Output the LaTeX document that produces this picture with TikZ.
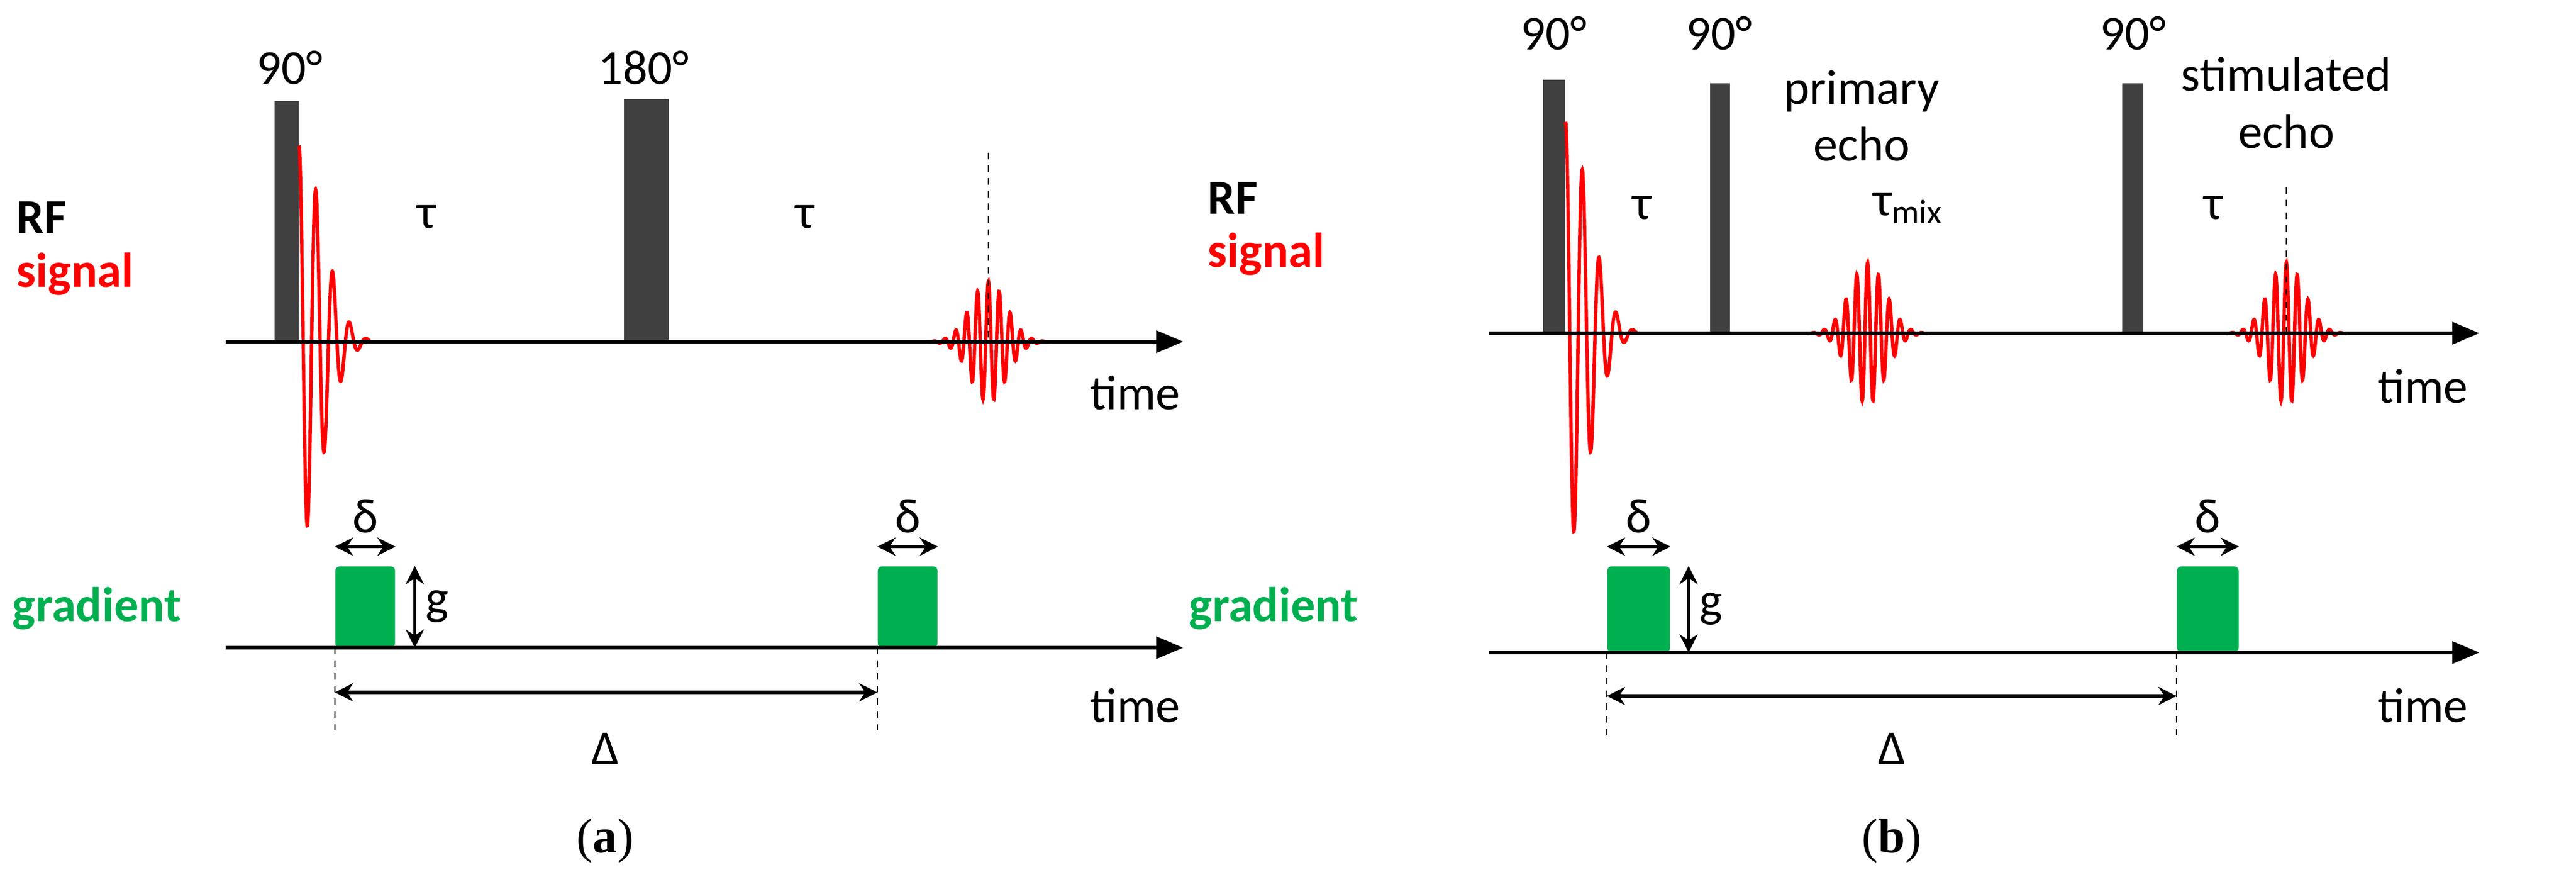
\documentclass[tikz,border=0pt]{standalone}
\usepackage{fontspec}
\setmainfont{Carlito}
\newfontfamily\capfont{Liberation Serif}
\usetikzlibrary{positioning,arrows.meta}

\definecolor{pulsegray}{HTML}{404040}
\definecolor{gradgreen}{HTML}{00B050}

\tikzset{
	lbl/.style={font=\fontsize{23}{27}\selectfont, inner sep=0pt},
	axis/.style={line width=1.7pt, -{Triangle[length=0.45cm,width=0.36cm]}},
	rf/.style={fill=pulsegray, draw=none, anchor=south west, inner sep=0pt},
	grad/.style={fill=gradgreen, draw=none, anchor=south west, inner sep=0pt, rounded corners=2pt},
	sig/.style={red, line width=1.6pt},
	dim/.style={line width=1.6pt, {Stealth[length=0.3cm,width=0.3cm]}-{Stealth[length=0.3cm,width=0.3cm]}},
	guide/.style={dashed, line width=0.5pt}
}

\begin{document}
\begin{tikzpicture}
	\useasboundingbox (0,0) rectangle (42.69,-14.81);

	% ---------- (a) spin echo ----------
	\coordinate (a0) at (3.74,-5.66);
	\coordinate (a1) at (19.61,-5.66);
	\coordinate (g0) at (3.74,-10.73);
	\coordinate (g1) at (19.61,-10.73);

	\node[rf, minimum width=0.40cm, minimum height=3.98cm] (pa1) at (4.54,-5.66) {};
	\node[rf, minimum width=0.74cm, minimum height=4.01cm] (pa2) at (10.33,-5.66) {};
	\node[lbl] (na1) at (4.80,-1.12) {90°};
	\node[lbl] (na2) at (10.67,-1.12) {180°};
	\node[lbl] (ta1) at (7.07,-3.60) {τ};
	\node[lbl] (ta2) at (13.34,-3.60) {τ};
	\node[lbl, anchor=west, font=\fontsize{23}{27}\selectfont\bfseries] (rfa) at (0.27,-3.60) {RF};
	\node[lbl, anchor=west, red, font=\fontsize{23}{27}\selectfont\bfseries] (siga) at (0.27,-4.54) {signal};
	\node[lbl, anchor=west, gradgreen, font=\fontsize{23}{27}\selectfont\bfseries] (grada) at (0.20,-10.08) {gradient};
	\node[lbl] (tima) at (18.81,-6.51) {time};
	\node[lbl] (timb) at (18.81,-11.69) {time};

	\draw[sig, shift={(pa1.south east)}] plot[domain=0:1.2, samples=300] (\x,{3.25*exp(-(\x/0.55)^2)*cos(\x*360/0.28)});
	\coordinate (ea) at (16.38,-5.66);
	\coordinate (ea top) at (16.38,-2.53);
	\draw[sig, shift={(ea)}] plot[domain=-1:1, samples=400] (\x,{1.0*exp(-(\x/0.42)^2)*cos(\x*360/0.18)});
	\draw[guide] (ea top) -- (ea);
	\draw[axis] (a0) -- (a1);

	\node[grad, minimum width=0.99cm, minimum height=1.34cm] (ga1) at (5.55,-10.73) {};
	\node[grad, minimum width=0.99cm, minimum height=1.34cm] (ga2) at (14.54,-10.73) {};
	\draw[axis] (g0) -- (g1);
	\draw[dim] ([yshift=0.32cm]ga1.north west) -- node[lbl, above=0.2cm] (da1) {δ} ([yshift=0.32cm]ga1.north east);
	\draw[dim] ([yshift=0.32cm]ga2.north west) -- node[lbl, above=0.2cm] (da2) {δ} ([yshift=0.32cm]ga2.north east);
	\draw[dim] ([xshift=0.32cm]ga1.north east) -- node[lbl, right=0.15cm] (gl1) {g} ([xshift=0.32cm]ga1.south east);
	\coordinate (la1) at (5.55,-12.14);
	\coordinate (la2) at (14.54,-12.14);
	\draw[guide] (ga1.south west) -- (la1);
	\draw[guide] (ga2.south west) -- (la2);
	\draw[dim] (5.55,-11.47) -- (14.54,-11.47);
	\node[lbl] (Da) at (10.03,-12.41) {Δ};
	\node[lbl, font=\fontsize{23}{27}\selectfont\capfont] (capa) at (10.03,-13.93) {(\textbf{a})};

	% ---------- (b) stimulated echo ----------
	\coordinate (b0) at (24.68,-5.52);
	\coordinate (b1) at (41.09,-5.52);
	\coordinate (h0) at (24.68,-10.81);
	\coordinate (h1) at (41.09,-10.81);

	\node[rf, minimum width=0.37cm, minimum height=4.19cm] (pb1) at (25.56,-5.52) {};
	\node[rf, minimum width=0.33cm, minimum height=4.13cm] (pb2) at (28.33,-5.52) {};
	\node[rf, minimum width=0.35cm, minimum height=4.13cm] (pb3) at (35.16,-5.52) {};
	\node[lbl] (nb1) at (25.75,-0.55) {90°};
	\node[lbl] (nb2) at (28.49,-0.55) {90°};
	\node[lbl] (nb3) at (35.35,-0.55) {90°};
	\node[lbl, align=center] (prim) at (30.85,-1.92) {primary\\echo};
	\node[lbl, align=center] (stim) at (37.89,-1.70) {stimulated\\echo};
	\node[lbl] (tb1) at (27.21,-3.45) {τ};
	\node[lbl] (tb2) at (31.62,-3.45) {τ\textsubscript{mix}};
	\node[lbl] (tb3) at (36.68,-3.45) {τ};
	\node[lbl, anchor=west, font=\fontsize{23}{27}\selectfont\bfseries] (rfb) at (20.01,-3.28) {RF};
	\node[lbl, anchor=west, red, font=\fontsize{23}{27}\selectfont\bfseries] (sigb) at (20.01,-4.21) {signal};
	\node[lbl, anchor=west, gradgreen, font=\fontsize{23}{27}\selectfont\bfseries] (gradb) at (19.70,-10.08) {gradient};
	\node[lbl] (timc) at (40.15,-6.40) {time};
	\node[lbl] (timd) at (40.15,-11.69) {time};

	\draw[sig, shift={(pb1.south east)}] plot[domain=0:1.2, samples=300] (\x,{3.5*exp(-(\x/0.55)^2)*cos(\x*360/0.28)});
	\coordinate (eb1) at (30.95,-5.52);
	\coordinate (eb2) at (37.89,-5.52);
	\coordinate (eb2 top) at (37.89,-3.10);
	\draw[sig, shift={(eb1)}] plot[domain=-1:1, samples=400] (\x,{1.17*exp(-(\x/0.42)^2)*cos(\x*360/0.18)});
	\draw[sig, shift={(eb2)}] plot[domain=-1:1, samples=400] (\x,{1.17*exp(-(\x/0.42)^2)*cos(\x*360/0.18)});
	\draw[guide] (eb2 top) -- (eb2);
	\draw[axis] (b0) -- (b1);

	\node[grad, minimum width=1.04cm, minimum height=1.42cm] (gb1) at (26.63,-10.81) {};
	\node[grad, minimum width=1.02cm, minimum height=1.42cm] (gb2) at (36.07,-10.81) {};
	\draw[axis] (h0) -- (h1);
	\draw[dim] ([yshift=0.32cm]gb1.north west) -- node[lbl, above=0.2cm] (db1) {δ} ([yshift=0.32cm]gb1.north east);
	\draw[dim] ([yshift=0.32cm]gb2.north west) -- node[lbl, above=0.2cm] (db2) {δ} ([yshift=0.32cm]gb2.north east);
	\draw[dim] ([xshift=0.30cm]gb1.north east) -- node[lbl, right=0.15cm] (gl2) {g} ([xshift=0.30cm]gb1.south east);
	\coordinate (lb1) at (26.63,-12.22);
	\coordinate (lb2) at (36.07,-12.22);
	\draw[guide] (gb1.south west) -- (lb1);
	\draw[guide] (gb2.south west) -- (lb2);
	\draw[dim] (26.63,-11.53) -- (36.07,-11.53);
	\node[lbl] (Db) at (31.35,-12.41) {Δ};
	\node[lbl, font=\fontsize{23}{27}\selectfont\capfont] (capb) at (31.35,-13.93) {(\textbf{b})};
\end{tikzpicture}
\end{document}
